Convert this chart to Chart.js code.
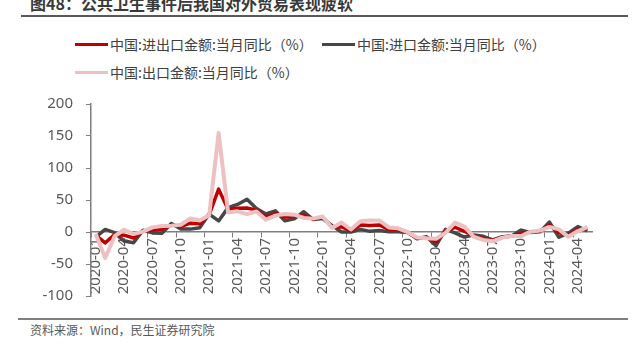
<!DOCTYPE html>
<html lang="zh-CN">
<head>
<meta charset="utf-8">
<title>对外贸易当月同比</title>
<script src="https://cdn.jsdelivr.net/npm/chart.js@4.4.1/dist/chart.umd.min.js"></script>
<style>
  html, body { margin: 0; padding: 0; background: #fff; }
  body {
    width: 638px; height: 344px; position: relative; overflow: hidden;
    font-family: "Noto Sans CJK SC", "Noto Sans", sans-serif;
  }
  .title {
    position: absolute; left: 30px; top: -5px;
    font-size: 16px; line-height: 16px; font-weight: bold;
    color: #3a3a3a; white-space: nowrap;
  }
  .title-rule { position: absolute; left: 21px; top: 15px; width: 607px; height: 2px; background: #595959; }
  #legend {
    position: absolute; left: 75px; top: 34px; width: 500px;
    display: flex; flex-wrap: wrap; row-gap: 8px;
  }
  .item {
    width: 247px; height: 20px; display: flex; align-items: center;
    font-size: 14px; color: #404040; white-space: nowrap;
  }
  .swatch { width: 33px; height: 3px; margin-right: 2px; flex: none; }
  #wrap { position: absolute; left: 0; top: 82px; }
  .foot-rule { position: absolute; left: 18px; top: 318px; width: 610px; height: 2px; background: #7f7f7f; }
  .source {
    position: absolute; left: 30px; top: 322px;
    font-size: 12px; line-height: 16px; color: #595959; white-space: nowrap;
  }
</style>
</head>
<body>
<div class="title">图48：公共卫生事件后我国对外贸易表现疲软</div>
<div class="title-rule"></div>
<div id="legend"></div>
<div id="wrap"><canvas id="tradeChart" width="638" height="236"></canvas></div>
<div class="foot-rule"></div>
<div class="source">资料来源：Wind，民生证券研究院</div>

<script>
// 月份 2020-01 ~ 2024-05
const months = [
  "2020-01", "2020-02", "2020-03", "2020-04", "2020-05", "2020-06",
  "2020-07", "2020-08", "2020-09", "2020-10", "2020-11", "2020-12",
  "2021-01", "2021-02", "2021-03", "2021-04", "2021-05", "2021-06",
  "2021-07", "2021-08", "2021-09", "2021-10", "2021-11", "2021-12",
  "2022-01", "2022-02", "2022-03", "2022-04", "2022-05", "2022-06",
  "2022-07", "2022-08", "2022-09", "2022-10", "2022-11", "2022-12",
  "2023-01", "2023-02", "2023-03", "2023-04", "2023-05", "2023-06",
  "2023-07", "2023-08", "2023-09", "2023-10", "2023-11", "2023-12",
  "2024-01", "2024-02", "2024-03", "2024-04", "2024-05"
];

// 进出口金额 当月同比(%)
const tradeYoY = [
  -5, -17, -4, -4.9, -9.3, 1.5, 3.2, 4.3, 11.3, 8.4, 13.8, 12.9,
  27, 67, 35, 37, 37.4, 34.2, 23.1, 28.9, 23.3, 24.3, 26.1, 20.3,
  22.8, 8, 8.1, 2.1, 11.1, 10.3, 11, 4.1, 3.4, -0.4, -9.5, -8.9,
  -15, 1.2, 7.4, 1.1, -6.2, -10, -13.6, -8.2, -6.2, -2.4, 0, 1.4,
  11, -1, -5.1, 4.4, 5.1
];

// 进口金额 当月同比(%)
const importYoY = [
  -8, 4, -0.9, -14.2, -16.7, 2.7, -1.4, -2.1, 13.2, 4.7, 4.5, 6.5,
  28, 17.3, 38.1, 43.1, 51.1, 36.7, 28.1, 33.1, 17.6, 20.6, 31.7, 19.5,
  21, 10, -0.1, 0, 4.1, 1, 2.3, 0.3, 0.3, -0.7, -10.6, -7.5,
  -21.3, 4.2, -1.4, -7.9, -4.5, -6.8, -12.4, -7.3, -6.2, 3, -0.6, 0.2,
  15.5, -8.2, -1.9, 8.4, 1.8
];

// 出口金额 当月同比(%)
const exportYoY = [
  -3, -40.6, -6.6, 3.5, -3.3, 0.5, 7.2, 9.5, 9.9, 11.4, 21.1, 18.1,
  26, 154.9, 30.6, 32.3, 27.9, 32.2, 19.3, 25.6, 28.1, 27.1, 22, 20.9,
  24.1, 6.2, 14.7, 3.9, 16.9, 17.9, 18, 7.1, 5.7, -0.3, -8.7, -9.9,
  -10.5, -1.3, 14.8, 8.5, -7.5, -12.4, -14.5, -8.8, -6.2, -6.4, 0.5, 2.3,
  8, 4, -7.5, 1.5, 7.6
];

const seriesNames = [
  "中国:进出口金额:当月同比（%）",
  "中国:进口金额:当月同比（%）",
  "中国:出口金额:当月同比（%）"
];
const seriesColors = ["#C00000", "#474747", "#EDC1C1"];

const yTicks = [-100, -50, 0, 50, 100, 150, 200];

const axisColor = "#7F7F7F";
const labelColor = "#595959";

// legend
const legendBox = document.getElementById("legend");
seriesNames.forEach((name, i) => {
  const item = document.createElement("div");
  item.className = "item";
  const sw = document.createElement("span");
  sw.className = "swatch";
  sw.style.background = seriesColors[i];
  const txt = document.createElement("span");
  txt.textContent = name;
  item.appendChild(sw);
  item.appendChild(txt);
  legendBox.appendChild(item);
});

const ctx = document.getElementById("tradeChart");
new Chart(ctx, {
  type: "line",
  data: {
    labels: months,
    datasets: [
      { label: seriesNames[0], data: tradeYoY, borderColor: seriesColors[0], borderWidth: 3.5, order: 2 },
      { label: seriesNames[1], data: importYoY, borderColor: seriesColors[1], borderWidth: 3.5, order: 3 },
      { label: seriesNames[2], data: exportYoY, borderColor: seriesColors[2], borderWidth: 4, order: 1 }
    ]
  },
  options: {
    responsive: false,
    animation: false,
    devicePixelRatio: 1,
    layout: { padding: { left: 0, right: 46, top: 5, bottom: 7 } },
    elements: {
      point: { radius: 0 },
      line: { tension: 0, borderJoinStyle: "round" }
    },
    plugins: {
      legend: { display: false },
      tooltip: { enabled: false }
    },
    scales: {
      x: {
        position: { y: 0 },
        offset: true,
        grid: {
          display: true,
          drawOnChartArea: false,
          offset: true,
          tickLength: 5,
          lineWidth: 1,
          color: (c) => (c.index % 3 === 0 ? axisColor : "rgba(0,0,0,0)")
        },
        border: { color: axisColor, width: 1.5 },
        ticks: {
          autoSkip: false,
          minRotation: 90,
          maxRotation: 90,
          padding: 1,
          color: labelColor,
          font: { family: "Noto Sans", size: 15 },
          callback: function (v, i) {
            return i % 3 === 0 ? this.getLabelForValue(v) : "";
          }
        }
      },
      y: {
        min: yTicks[0],
        max: yTicks[yTicks.length - 1],
        afterFit: (scale) => { scale.width = 91; },
        grid: {
          display: true,
          drawOnChartArea: false,
          tickLength: 5,
          color: axisColor
        },
        border: { color: axisColor, width: 1.5 },
        ticks: {
          stepSize: yTicks[1] - yTicks[0],
          padding: 13,
          color: labelColor,
          font: { family: "Noto Sans", size: 15 }
        }
      }
    }
  }
});
</script>
</body>
</html>
